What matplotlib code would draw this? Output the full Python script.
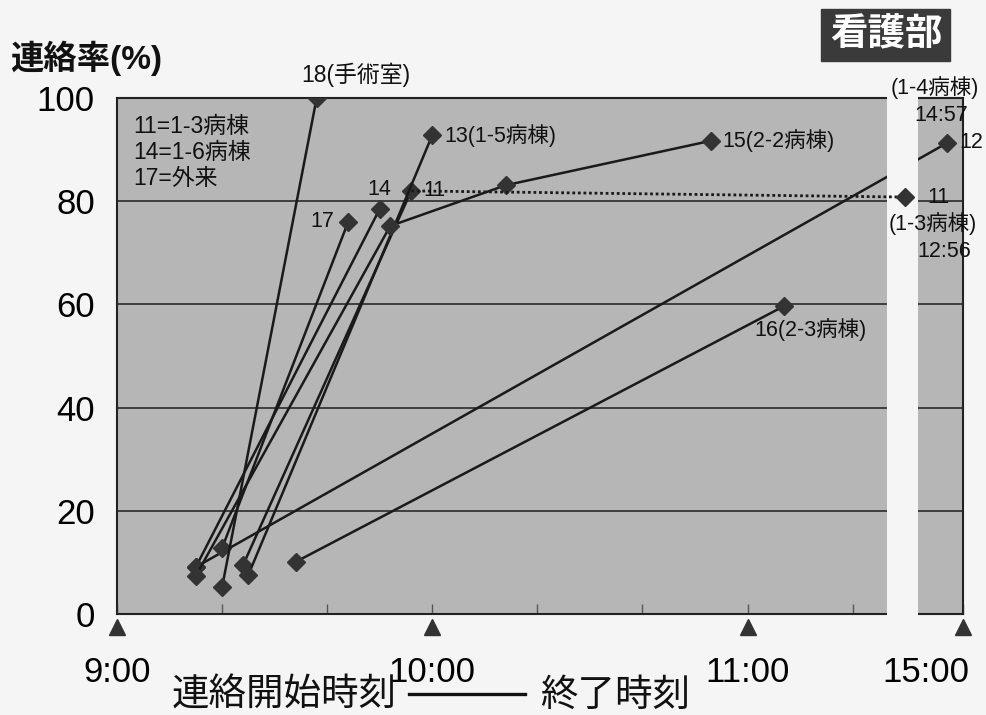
import numpy as np
import matplotlib
matplotlib.use('Agg')
import matplotlib.pyplot as plt
from matplotlib.lines import Line2D
from matplotlib.transforms import ScaledTranslation

plt.rcParams['font.family'] = ['Liberation Sans', 'Noto Sans CJK JP', 'DejaVu Sans']

# ---------------- data ----------------
series_names = ["11", "12", "13", "14", "15", "16", "17", "18"]
times_11 = ["9:24", "9:56"];                  values_11 = [9.5, 82.0]
times_11_ext = ["9:56", "12:56"];             values_11_ext = [82.0, 80.8]
times_12 = ["9:15", "14:57"];                 values_12 = [9.1, 91.3]
times_13 = ["9:25", "10:00"];                 values_13 = [7.6, 92.8]
times_14 = ["9:15", "9:50"];                  values_14 = [9.1, 78.5]
times_15 = ["9:15", "9:52", "10:14", "10:53"]; values_15 = [7.4, 75.2, 83.1, 91.7]
times_16 = ["9:34", "11:07"];                 values_16 = [10.1, 59.7]
times_17 = ["9:20", "9:44"];                  values_17 = [12.8, 76.0]
times_18 = ["9:20", "9:38"];                  values_18 = [5.2, 100.0]

xtick_labels = ["9:00", "10:00", "11:00", "15:00"]
ytick_values = [0, 20, 40, 60, 80, 100]
legend_lines = ["11=1-3病棟", "14=1-6病棟", "17=外来"]


def tmin(s):
    h, m = s.split(':')
    return (int(h) - 9) * 60 + int(m)


def tm(lst):
    return np.array([tmin(s) for s in lst], dtype=float)


# broken time axis (compressed gap between 11:26 and 14:52)
REAL = np.array([-600, 0, 146.5, 236, 351.5, 360, 960], dtype=float)
POS = np.array([-600, 0, 146.5, 150, 152.5, 161, 761], dtype=float)


def fwd(x):
    return np.interp(x, REAL, POS)


def inv(p):
    return np.interp(p, POS, REAL)


BG = '#f5f5f5'
PANEL = '#b6b6b6'
LINE = '#1a1a1a'
MK = '#333333'

fig = plt.figure(figsize=(9.87, 7.15), dpi=100, facecolor=BG)
ax = fig.add_axes([117/987, 101/715, 846/987, 516/715])
ax.set_xscale('function', functions=(fwd, inv))
ax.set_xlim(0, 360)
ax.set_ylim(0, 100)
ax.set_facecolor(PANEL)
ax.set_axisbelow(True)
ax.yaxis.grid(True, color='#2a2a2a', linewidth=1.2)
ax.xaxis.grid(False)
for sp in ax.spines.values():
    sp.set_color('#222222')
    sp.set_linewidth(1.5)

# gap between panels
ax.axvspan(146.5, 351.5, ymin=-0.012, ymax=1.012, facecolor=BG, edgecolor='none',
           zorder=3, clip_on=False)

lkw = dict(color=LINE, lw=1.8, marker='D', ms=9, mfc=MK, mec=MK)
ax.plot(tm(times_12), values_12, zorder=2.6, **lkw)
for t, v in [(times_11, values_11), (times_13, values_13), (times_14, values_14),
             (times_15, values_15), (times_16, values_16), (times_17, values_17),
             (times_18, values_18)]:
    ax.plot(tm(t), v, zorder=4, **lkw)
ax.plot(tm(times_11_ext), values_11_ext, color=LINE, lw=2.0, ls=(0, (1.0, 1.0)), zorder=4)
ax.plot(tm(times_11_ext)[-1:], values_11_ext[-1:], ls='none', marker='D', ms=9,
        mfc=MK, mec=MK, zorder=5, clip_on=False)

# ticks
major = tm(xtick_labels)
ax.set_xticks(major)
ax.set_xticklabels(xtick_labels, fontsize=25)
ax.set_xticks(np.arange(20, 146, 20), minor=True)
ax.tick_params(axis='x', which='both', direction='in', length=7, width=1,
               color='#555555', pad=30)
ax.set_yticks(ytick_values)
ax.set_yticklabels([str(v) for v in ytick_values], fontsize=25)
ax.tick_params(axis='y', length=0, pad=16)

last = ax.xaxis.get_major_ticks()[-1].label1
last.set_horizontalalignment('right')
last.set_transform(last.get_transform() + ScaledTranslation(6/100, 0, fig.dpi_scale_trans))

# triangles under major ticks
ax.plot(major, [-0.025] * len(major), ls='none', marker='^', ms=11, color=MK,
        transform=ax.get_xaxis_transform(), clip_on=False, zorder=6)

# annotations
fs = 15.5
def ann(txt, t, v, dx, dy, ha='center', va='center', size=fs):
    ax.annotate(txt, (tmin(t), v), xytext=(dx, dy), textcoords='offset points',
                ha=ha, va=va, fontsize=size, color='#111111', zorder=7,
                annotation_clip=False)

ann("18(手術室)", times_18[-1], values_18[-1], 28, 17, size=16.5)
ann("13(1-5病棟)", times_13[-1], values_13[-1], 9, 0, ha='left')
ann("15(2-2病棟)", times_15[-1], values_15[-1], 8, 0, ha='left')
ann("14", times_14[-1], values_14[-1], 0, 14)
ann("11", times_11[-1], values_11[-1], 17, 0)
ann("17", times_17[-1], values_17[-1], -19, 0)
ann("16(2-3病棟)", times_16[-1], values_16[-1], 19, -17)
ann("11", times_11_ext[-1], values_11_ext[-1], 24, 0)
ann("(1-3病棟)", times_11_ext[-1], values_11_ext[-1], 20, -19)
ann("12:56", times_11_ext[-1], values_11_ext[-1], 28, -39)
ann("12", times_12[-1], values_12[-1], 17, 0)
ann("14:57", times_12[-1], values_12[-1], -4, 20)
ann("(1-4病棟)", times_12[-1], values_12[-1], -9, 40)

ax.text(0.019, 0.968, "\n".join(legend_lines), transform=ax.transAxes,
        ha='left', va='top', fontsize=16.5, linespacing=1.18, color='#111111', zorder=7)

# titles
fig.text(10/987, 1 - 58/715, "連絡率(%)", fontsize=24, fontweight='bold',
         ha='left', va='center', color='#111111')
fig.text(886/987, 1 - 35/715, "看護部", fontsize=27, fontweight='bold', color='white',
         ha='center', va='center',
         bbox=dict(boxstyle='square,pad=0.22', fc='#3a3a3a', ec='#3a3a3a'))

# bottom legend text
fig.text(397/987, 1 - 696/715, "連絡開始時刻", fontsize=27, ha='right', va='center',
         color='#111111')
fig.text(540/987, 1 - 696/715, "終了時刻", fontsize=27, ha='left', va='center',
         color='#111111')
fig.add_artist(Line2D([409/987, 525/987], [1 - 694/715, 1 - 694/715],
                      transform=fig.transFigure, color='#111111', lw=2.4))

fig.savefig('out.png', dpi=100, facecolor=BG)
